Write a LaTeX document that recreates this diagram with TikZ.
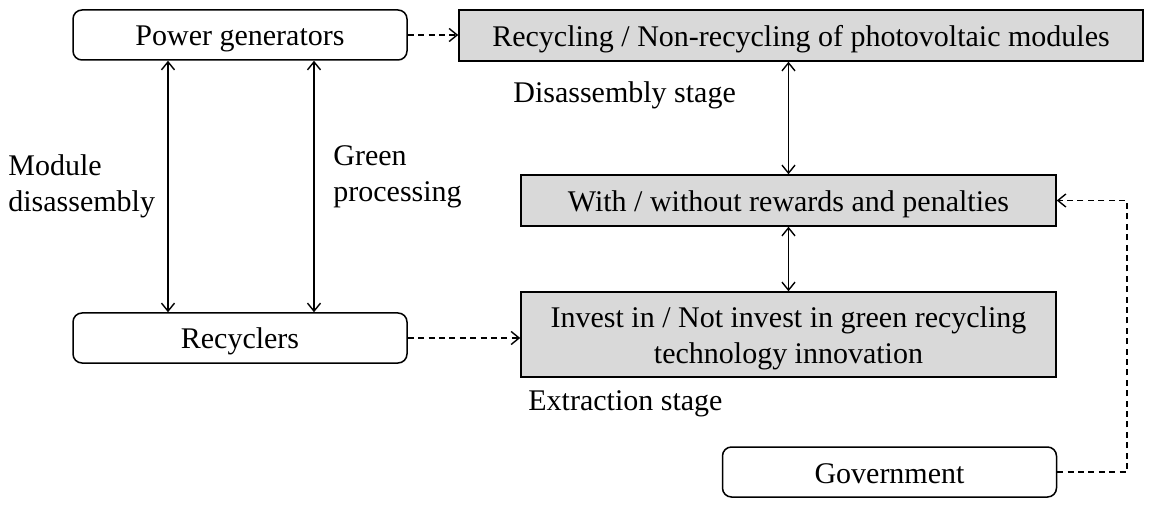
\documentclass[tikz,border=0pt]{standalone}
\usepackage{fontspec}
\setmainfont{Liberation Serif}
\usetikzlibrary{arrows.meta}
\begin{document}
\begin{tikzpicture}[x=0.5pt,y=-0.5pt,
  font=\fontsize{15}{18}\selectfont,
  rbox/.style={draw,line width=0.75pt,rounded corners=4.5pt,minimum width=167pt,minimum height=25pt,inner sep=0pt,fill=white,text height=13pt,text depth=2pt},
  gbox/.style={draw,line width=0.75pt,fill=gray!30,minimum height=25.5pt,inner sep=0pt,text height=13pt,text depth=2pt},
  tip/.tip={Straight Barb[length=4pt,width=6.5pt]},
  conn/.style={line width=0.7pt,tip-tip},
  dconn/.style={line width=0.7pt,dash pattern=on 3pt off 2.2pt,-tip},
  lbl/.style={anchor=west,align=left,inner sep=0pt}]
\useasboundingbox (0,0) rectangle (1153,508);
\node[rbox] (pg) at (240,35) {Power generators};
\node[rbox] (rec) at (240,338) {Recyclers};
\node[rbox] (gov) at (889.5,472) {Government};
\node[gbox,minimum width=342pt] (rc) at (801,35.5) {Recycling / Non-recycling of photovoltaic modules};
\node[gbox,minimum width=267.5pt] (ww) at (788.5,200.5) {With / without rewards and penalties};
\node[draw,line width=0.75pt,fill=gray!30,inner sep=0pt,minimum width=267.5pt,minimum height=42.5pt] (inv) at (788.5,334.5) {\raisebox{-1.8pt}[\height][\depth]{\begin{tabular}{@{}c@{}}Invest in / Not invest in green recycling\\technology innovation\end{tabular}}};
\node[lbl] (ds) at (513,95) {Disassembly stage};
\node[lbl] (es) at (528,404) {Extraction stage};
\node[lbl] (md) at (8,186) {Module\\disassembly};
\node[lbl] (gp) at (333,177) {Green\\processing};
\coordinate (x1) at (168,0);
\coordinate (x2) at (314,0);
\coordinate (gc) at (1127,472);
\draw[conn] (pg.south -| x1) -- (rec.north -| x1);
\draw[conn] (pg.south -| x2) -- (rec.north -| x2);
\draw[conn] (rc.south -| ww.north) -- (ww.north);
\draw[conn] (ww.south) -- (inv.north);
\draw[dconn] (pg.east) -- (rc.west |- pg.east);
\draw[dconn] (rec.east) -- (inv.west |- rec.east);
\draw[dconn] (gov.east) -- (gc) |- (ww.east);
\end{tikzpicture}
\end{document}
